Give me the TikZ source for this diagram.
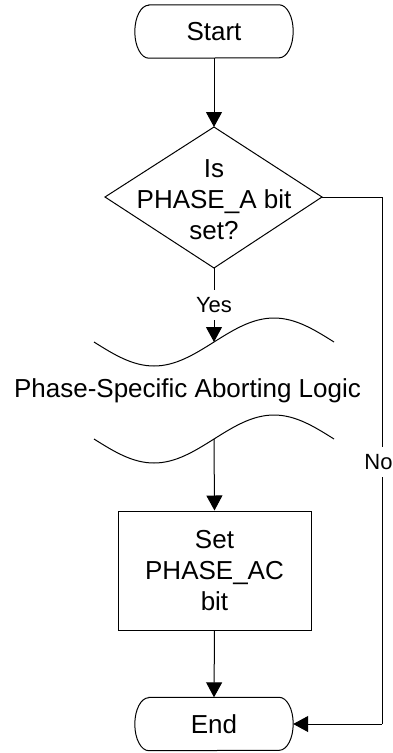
\documentclass[tikz,border=0pt]{standalone}
\usepackage{fontspec}
\setmainfont{Liberation Sans}
\usetikzlibrary{arrows.meta,calc}
\tikzset{
  line/.style={draw=black, line width=1pt},
  flow/.style={line, -{Triangle[width=16pt,length=15pt]}},
  txt/.style={font=\fontsize{26}{31}\selectfont, align=center, inner sep=0pt},
  lbl/.style={font=\fontsize{22}{26}\selectfont, fill=white, inner sep=0pt, minimum height=30pt},
  term/.style={txt, minimum width=158pt, minimum height=53pt},
}
\newcommand\termoutline[1]{%
  \draw[line] ($(#1.north west)+(14pt,0)$) -- ($(#1.north east)+(-14pt,0)$)
    arc[start angle=90,end angle=-90,x radius=14pt,y radius=26.5pt]
    -- ($(#1.south west)+(14pt,0)$)
    arc[start angle=270,end angle=90,x radius=14pt,y radius=26.5pt] -- cycle;}
\begin{document}
\begin{tikzpicture}[x=1pt,y=1pt]
\useasboundingbox[fill=white] (0,0) rectangle (393,-753);
% Start
\node[term] (start) at (214,-31.5) {Start};
\termoutline{start}
% decision
\node[txt] (dec) at (214,-200) {Is\\PHASE\_A bit\\set?};
\coordinate (dt) at (214,-127);
\coordinate (db) at (214,-268);
\coordinate (dl) at (105,-197);
\coordinate (dr) at (322,-197);
\draw[line] (dt) -- (dr) -- (db) -- (dl) -- cycle;
% wave shapes
\coordinate (w1) at (214,-342);
\coordinate (w2) at (214,-439);
\draw[line] (94,-342) sin (154,-366) cos (w1) sin (274,-318) cos (334,-342);
\draw[line] (94,-439) sin (154,-463) cos (w2) sin (274,-415) cos (334,-439);
\node[txt, anchor=base] (logic) at (187.5,-397) {Phase-Specific Aborting Logic};
% box
\node[txt, draw=black, line width=1pt, minimum width=193pt, minimum height=119pt] (box) at (214.5,-570.5) {Set\\PHASE\_AC\\bit};
% End
\node[term] (end) at (214,-724) {End};
\termoutline{end}
% connectors
\draw[flow] (start.south) -- (dt);
\draw[flow] (db) -- node[lbl] (yes) {Yes} (w1);
\draw[flow] (w2) -- (box.north);
\draw[flow] (box.south) -- (end.north);
\coordinate (nc1) at (382,-197);
\coordinate (nc2) at (382,-724);
\draw[line] (dr) -- (nc1) -- node[lbl, pos=0.502, xshift=-3.5pt] (no) {No} (nc2);
\draw[flow] (nc2) -- (end.east);
\end{tikzpicture}
\end{document}
